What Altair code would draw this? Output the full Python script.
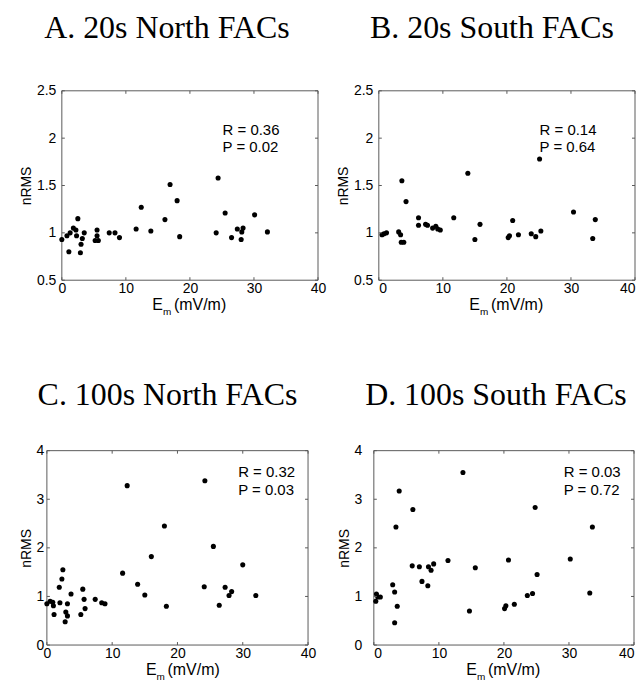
import altair as alt
import pandas as pd

# ---------------- data ----------------
x_ticks = [0, 10, 20, 30, 40]
y_ticks_20 = [0.5, 1, 1.5, 2, 2.5]
y_ticks_100 = [0, 1, 2, 3, 4]

titles = ["A. 20s North FACs", "B. 20s South FACs", "C. 100s North FACs", "D. 100s South FACs"]
r_texts = ["R = 0.36", "R = 0.14", "R = 0.32", "R = 0.03"]
p_texts = ["P = 0.02", "P = 0.64", "P = 0.03", "P = 0.72"]

a_em = [0.0, 0.8, 1.1, 1.3, 1.8, 2.2, 2.5, 2.3, 2.9, 3.0, 3.2, 3.5, 5.5, 5.5, 5.2, 5.7, 7.4, 8.3, 9.0,
        11.6, 12.4, 13.9, 16.1, 16.9, 18.0, 18.4, 24.1, 24.4, 25.5, 26.5, 27.4, 28.0, 28.1, 28.3, 30.1, 32.1]
a_nrms = [0.93, 0.97, 0.80, 1.00, 1.05, 1.03, 1.15, 0.97, 0.79, 0.88, 0.94, 1.00, 1.03, 0.97, 0.92, 0.92, 1.00, 1.00, 0.95,
          1.04, 1.27, 1.02, 1.14, 1.51, 1.34, 0.96, 1.00, 1.58, 1.21, 0.95, 1.04, 0.93, 1.01, 1.05, 1.19, 1.01]

b_em = [0.5, 0.8, 1.2, 3.1, 3.4, 3.5, 3.9, 3.6, 4.25, 6.2, 6.2, 7.3, 7.6, 8.4, 8.9, 9.2, 9.6, 11.7, 13.9, 15.0,
        15.8, 20.2, 20.4, 20.9, 21.8, 23.8, 24.5, 25.1, 25.3, 30.4, 33.4, 33.8]
b_nrms = [0.98, 0.99, 1.00, 1.01, 0.98, 0.90, 0.90, 1.55, 1.33, 1.16, 1.08, 1.09, 1.08, 1.05, 1.07, 1.04, 1.03, 1.16, 1.63, 0.93,
          1.09, 0.95, 0.97, 1.13, 0.98, 0.99, 0.96, 1.78, 1.02, 1.22, 0.94, 1.14]

c_em = [0.0, 0.5, 0.9, 1.0, 1.1, 1.9, 2.0, 2.3, 2.45, 2.9, 2.8, 3.15, 3.15, 3.7, 5.2, 5.5, 5.7, 5.85, 7.4, 8.4, 8.9,
        11.6, 12.3, 13.9, 15.0, 16.0, 18.0, 18.3, 24.1, 24.2, 25.5, 26.4, 27.3, 27.9, 28.3, 30.0, 32.0]
c_nrms = [0.85, 0.90, 0.88, 0.81, 0.63, 1.19, 0.87, 1.36, 1.55, 0.68, 0.48, 0.85, 0.60, 1.05, 0.63, 1.15, 0.94, 0.75, 0.94, 0.87, 0.85,
          1.48, 3.28, 1.25, 1.03, 1.82, 2.45, 0.80, 1.20, 3.38, 2.03, 0.82, 1.19, 1.02, 1.10, 1.65, 1.02]

d_em = [0.3, 0.4, 0.6, 1.0, 2.9, 3.2, 3.2, 3.4, 3.6, 3.9, 5.9, 6.0, 7.0, 7.4, 8.3, 8.4, 8.8, 9.2, 11.4, 13.7,
        14.7, 15.6, 20.1, 20.3, 20.7, 21.6, 23.6, 24.4, 24.8, 25.1, 30.2, 33.2, 33.6]
d_nrms = [0.90, 1.05, 0.99, 0.99, 1.24, 1.09, 0.46, 2.43, 0.80, 3.17, 1.63, 2.79, 1.61, 1.31, 1.22, 1.61, 1.54, 1.67, 1.74, 3.55,
          0.70, 1.59, 0.75, 0.81, 1.75, 0.84, 1.02, 1.06, 2.83, 1.45, 1.77, 1.07, 2.43]

SANS = "Liberation Sans"
SERIF = "Liberation Serif"
FRAME = "#5a5a5a"


def panel(em, nrms, title, r_txt, p_txt, ydom, yticks, W, H, title_dx, title_y, stat_x, stat_yr, stat_yp,
          ylabel_pad=3, e_dx=-25, x0=0, flush=False):
    # x0: inset of the plot frame inside its group (used to stagger the rows as in the original)
    xs = alt.Scale(domain=[0, 40], nice=False, zero=False, range=[x0, x0 + W])
    ys = alt.Scale(domain=ydom, nice=False, zero=False)
    xax = alt.Axis(values=x_ticks, title=None, format="~r", labelPadding=1, labelFlush=flush)
    yax = alt.Axis(values=yticks, title="nRMS", format="~r", labelPadding=ylabel_pad, titlePadding=3,
                   offset=-x0)

    def X(f):
        return alt.X(f, scale=xs, axis=xax)

    def Y(f):
        return alt.Y(f, scale=ys, axis=yax)

    frame = alt.Chart(pd.DataFrame({"k": [0]})).mark_rect(
        fillOpacity=0, stroke=FRAME, strokeWidth=1
    ).encode(x=alt.value(x0), x2=alt.value(x0 + W), y=alt.value(0), y2=alt.value(H))

    pts = alt.Chart(pd.DataFrame({"Em": em, "nRMS": nrms})).mark_circle(
        size=26, color="black", opacity=1
    ).encode(x=X("Em:Q"), y=Y("nRMS:Q"))

    xt = pd.DataFrame({"t": x_ticks})
    yt = pd.DataFrame({"t": yticks})
    tick_style = dict(color=FRAME, strokeWidth=1)
    xb = alt.Chart(xt).mark_rule(**tick_style).encode(
        x=X("t:Q"), y=alt.value(H), y2=alt.value(H - 3))
    xtop = alt.Chart(xt).mark_rule(**tick_style).encode(
        x=X("t:Q"), y=alt.value(0), y2=alt.value(3))
    yl = alt.Chart(yt).mark_rule(**tick_style).encode(
        y=Y("t:Q"), x=alt.value(x0), x2=alt.value(x0 + 3))
    yr = alt.Chart(yt).mark_rule(**tick_style).encode(
        y=Y("t:Q"), x=alt.value(x0 + W - 3), x2=alt.value(x0 + W))

    stats = alt.Chart(pd.DataFrame({"x": [stat_x, stat_x], "y": [stat_yr, stat_yp],
                                    "s": [r_txt, p_txt]})).mark_text(
        font=SANS, fontSize=15, align="left", baseline="alphabetic", color="black"
    ).encode(x=X("x:Q"), y=Y("y:Q"), text="s:N")

    cx = x0 + W / 2
    ttl = alt.Chart(pd.DataFrame({"s": [title]})).mark_text(
        font=SERIF, fontSize=32, align="center", baseline="alphabetic", color="black"
    ).encode(x=alt.value(cx + title_dx), y=alt.value(title_y), text="s:N")

    e_txt = alt.Chart(pd.DataFrame({"s": ["E"]})).mark_text(
        font=SANS, fontSize=16, align="right", baseline="alphabetic", color="black"
    ).encode(x=alt.value(cx + e_dx), y=alt.value(H + 30), text="s:N")
    m_txt = alt.Chart(pd.DataFrame({"s": ["m"]})).mark_text(
        font=SANS, fontSize=10, align="left", baseline="alphabetic", color="black"
    ).encode(x=alt.value(cx + e_dx), y=alt.value(H + 35), text="s:N")
    u_txt = alt.Chart(pd.DataFrame({"s": ["(mV/m)"]})).mark_text(
        font=SANS, fontSize=16, align="left", baseline="alphabetic", color="black"
    ).encode(x=alt.value(cx + e_dx + 11), y=alt.value(H + 30), text="s:N")

    return alt.layer(frame, pts, xb, xtop, yl, yr, stats, ttl, e_txt, m_txt, u_txt).properties(
        width=x0 + W, height=H)


pa = panel(a_em, a_nrms, titles[0], r_texts[0], p_texts[0], [0.5, 2.5], y_ticks_20, 257, 190,
           -23, -53, 25.1, 2.03, 1.85, ylabel_pad=6, e_dx=-27, x0=15)
pb = panel(b_em, b_nrms, titles[1], r_texts[1], p_texts[1], [0.5, 2.5], y_ticks_20, 257, 190,
           -15, -53, 25.1, 2.03, 1.85, ylabel_pad=6, e_dx=-27, flush=True)
pc = panel(c_em, c_nrms, titles[2], r_texts[2], p_texts[2], [0, 4], y_ticks_100, 262, 195,
           -10, -46, 29.3, 3.45, 3.09, ylabel_pad=3, e_dx=-21)
pd_ = panel(d_em, d_nrms, titles[3], r_texts[3], p_texts[3], [0, 4], y_ticks_100, 261, 195,
            -8, -46, 29.2, 3.45, 3.09, ylabel_pad=12, e_dx=-27, flush=True)

row1 = alt.hconcat(pa, pb, spacing=10)
row2 = alt.hconcat(pc, pd_, spacing=21)

chart = alt.vconcat(row1, row2, spacing=62).properties(
    padding={"left": 11, "top": 3, "right": 0, "bottom": 0}
).configure_view(
    strokeWidth=0
).configure_axis(
    labelFont=SANS, labelFontSize=14, labelColor="black",
    titleFont=SANS, titleFontSize=14, titleFontWeight="normal", titleColor="black",
    grid=False, domain=False, ticks=False, tickSize=0,
)

chart.save("out.html", embed_options={"renderer": "svg", "actions": False})
